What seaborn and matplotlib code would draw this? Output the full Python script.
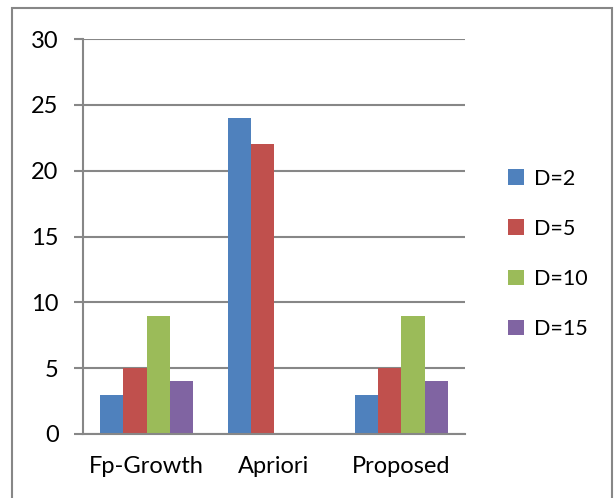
import matplotlib
matplotlib.use("Agg")
import matplotlib.pyplot as plt
from matplotlib.patches import Rectangle
import seaborn as sns
import pandas as pd

categories = ["Fp-Growth", "Apriori", "Proposed"]
series = ["D=2", "D=5", "D=10", "D=15"]
values = {
    "D=2": [3, 24, 3],
    "D=5": [5, 22, 5],
    "D=10": [9, 0, 9],
    "D=15": [4, 0, 4],
}
colors = ["#4F81BD", "#C0504D", "#9BBB59", "#8064A2"]
y_ticks = [0, 5, 10, 15, 20, 25, 30]

rows = []
for s in series:
    for c, v in zip(categories, values[s]):
        rows.append({"Method": c, "Series": s, "Value": v})
df = pd.DataFrame(rows)

sns.set_theme(style="white")
plt.rcParams["font.family"] = ["Lato", "DejaVu Sans"]

W, H = 615, 498
fig = plt.figure(figsize=(W / 100, H / 100), dpi=100)
ax = fig.add_axes([83 / W, 1 - 434 / H, 382 / W, 395 / H])

sns.barplot(data=df, x="Method", y="Value", hue="Series", order=categories,
            hue_order=series, palette=colors, width=0.73, gap=0,
            saturation=1, ax=ax, legend=True)

grid_c = "#878787"
ax.set_ylim(0, 30)
ax.set_xlim(-0.5, 2.5)
ax.set_yticks(y_ticks)
ax.set_yticklabels([str(t) for t in y_ticks], fontsize=17, color="black")
ax.yaxis.grid(True, color=grid_c, linewidth=1.5)
ax.set_axisbelow(True)
ax.set_xlabel("")
ax.set_ylabel("")
ax.set_xticks(range(len(categories)))
ax.set_xticklabels(categories, fontsize=17, color="black")
ax.set_xticks([-0.5, 0.5, 1.5, 2.5], minor=True)
ax.tick_params(axis="x", which="major", length=0, pad=16)
ax.tick_params(axis="x", which="minor", length=6, width=1.5, color=grid_c, direction="out")
ax.tick_params(axis="y", which="major", length=6.5, width=1.5, color=grid_c,
               direction="out", pad=11, left=True)
for side in ["top", "right"]:
    ax.spines[side].set_visible(False)
for side in ["left", "bottom"]:
    ax.spines[side].set_color(grid_c)
    ax.spines[side].set_linewidth(1.5)
for p in ax.patches:
    p.set_edgecolor("none")

leg = ax.legend(loc="center left", bbox_to_anchor=(425 / 382, 0.456), frameon=False,
                fontsize=15.5, handlelength=0.75, handleheight=0.75, handletextpad=0.45,
                labelspacing=1.4, borderaxespad=0, borderpad=0)
for t in leg.get_texts():
    t.set_color("black")

fig.patches.append(Rectangle((12 / W, -0.05), 600 / W, 1.05 - 8 / H,
                             transform=fig.transFigure, fill=False,
                             edgecolor=grid_c, linewidth=1.5))

fig.savefig("out.png", dpi=100)
